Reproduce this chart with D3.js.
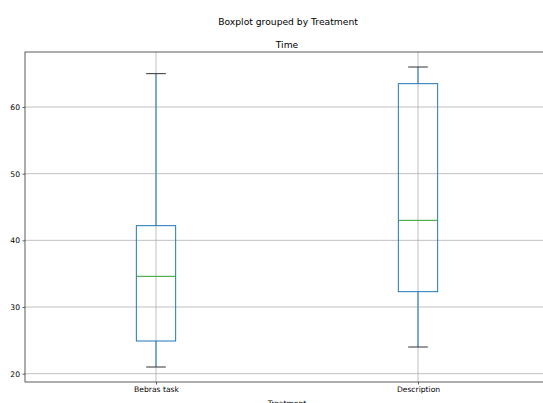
<!DOCTYPE html>
<html>
<head>
<meta charset="utf-8">
<script src="https://cdn.jsdelivr.net/npm/d3@7"></script>
<style>
  body { margin: 0; background: #fff; }
  svg { display: block; font-family: "DejaVu Sans", sans-serif; }
</style>
</head>
<body>
<svg></svg>
<script>
var WIDTH = 543;
var HEIGHT = 403;

// data
var categories = ['Bebras task', 'Description'];
var whiskerLow = [21, 24];
var q1 = [24.9, 32.3];
var median = [34.6, 43.0];
var q3 = [42.2, 63.5];
var whiskerHigh = [65, 66];
var yTicks = [20, 30, 40, 50, 60];

// plot area (right edge sits past the window, as in the reference)
var plotLeft = 25, plotRight = 549, plotTop = 52, plotBottom = 382;

var svg = d3.select('svg')
  .attr('width', WIDTH)
  .attr('height', HEIGHT);

var yMin = d3.min(whiskerLow);
var yMax = d3.max(whiskerHigh);
var pad = (yMax - yMin) * 0.05;

var yScale = d3.scaleLinear()
  .domain([yMin - pad, yMax + pad])
  .range([plotBottom, plotTop]);

var xScale = d3.scaleLinear()
  .domain([0.5, categories.length + 0.5])
  .range([plotLeft, plotRight]);

var boxW = 0.15;

// grid
svg.append('g')
  .selectAll('line')
  .data(yTicks)
  .enter()
  .append('line')
  .attr('x1', plotLeft).attr('x2', plotRight)
  .attr('y1', function(d) { return yScale(d); })
  .attr('y2', function(d) { return yScale(d); })
  .attr('stroke', '#b0b0b0').attr('stroke-width', 0.8);

svg.append('g')
  .selectAll('line')
  .data(categories)
  .enter()
  .append('line')
  .attr('x1', function(d, i) { return xScale(i + 1); })
  .attr('x2', function(d, i) { return xScale(i + 1); })
  .attr('y1', plotTop).attr('y2', plotBottom)
  .attr('stroke', '#b0b0b0').attr('stroke-width', 0.8);

// axes
var yAxis = d3.axisLeft(yScale).tickValues(yTicks).tickSize(2.5).tickPadding(2.5);
var gy = svg.append('g').attr('transform', 'translate(' + plotLeft + ',0)').call(yAxis);
gy.select('.domain').remove();
gy.selectAll('text').attr('font-size', '7.6px').attr('fill', '#000')
  .attr('font-family', '"DejaVu Sans", sans-serif');
gy.selectAll('line').attr('stroke', '#000').attr('stroke-width', 0.6);

var xAxis = d3.axisBottom(xScale).tickValues(d3.range(1, categories.length + 1))
  .tickFormat(function(d) { return categories[d - 1]; })
  .tickSize(2.5).tickPadding(2.5);
var gx = svg.append('g').attr('transform', 'translate(0,' + plotBottom + ')').call(xAxis);
gx.select('.domain').remove();
gx.selectAll('text').attr('font-size', '7.6px').attr('fill', '#000')
  .attr('font-family', '"DejaVu Sans", sans-serif');
gx.selectAll('line').attr('stroke', '#000').attr('stroke-width', 0.6);

// frame
svg.append('rect')
  .attr('x', plotLeft).attr('y', plotTop)
  .attr('width', plotRight - plotLeft).attr('height', plotBottom - plotTop)
  .attr('fill', 'none').attr('stroke', '#333').attr('stroke-width', 0.8);

// boxes
var boxes = svg.append('g').selectAll('g')
  .data(categories)
  .enter()
  .append('g');

boxes.append('line')
  .attr('x1', function(d, i) { return xScale(i + 1); })
  .attr('x2', function(d, i) { return xScale(i + 1); })
  .attr('y1', function(d, i) { return yScale(whiskerLow[i]); })
  .attr('y2', function(d, i) { return yScale(q1[i]); })
  .attr('stroke', '#1f77b4').attr('stroke-width', 1);

boxes.append('line')
  .attr('x1', function(d, i) { return xScale(i + 1); })
  .attr('x2', function(d, i) { return xScale(i + 1); })
  .attr('y1', function(d, i) { return yScale(q3[i]); })
  .attr('y2', function(d, i) { return yScale(whiskerHigh[i]); })
  .attr('stroke', '#1f77b4').attr('stroke-width', 1);

boxes.append('rect')
  .attr('x', function(d, i) { return xScale(i + 1 - boxW / 2); })
  .attr('width', function(d, i) { return xScale(i + 1 + boxW / 2) - xScale(i + 1 - boxW / 2); })
  .attr('y', function(d, i) { return yScale(q3[i]); })
  .attr('height', function(d, i) { return yScale(q1[i]) - yScale(q3[i]); })
  .attr('fill', 'none').attr('stroke', '#1f77b4').attr('stroke-width', 1);

boxes.append('line')
  .attr('x1', function(d, i) { return xScale(i + 1 - boxW / 2); })
  .attr('x2', function(d, i) { return xScale(i + 1 + boxW / 2); })
  .attr('y1', function(d, i) { return yScale(median[i]); })
  .attr('y2', function(d, i) { return yScale(median[i]); })
  .attr('stroke', '#2ca02c').attr('stroke-width', 1);

[whiskerLow, whiskerHigh].forEach(function(arr) {
  boxes.append('line')
    .attr('x1', function(d, i) { return xScale(i + 1 - boxW / 4); })
    .attr('x2', function(d, i) { return xScale(i + 1 + boxW / 4); })
    .attr('y1', function(d, i) { return yScale(arr[i]); })
    .attr('y2', function(d, i) { return yScale(arr[i]); })
    .attr('stroke', '#333').attr('stroke-width', 1);
});

// titles
svg.append('text')
  .attr('x', 288).attr('y', 25)
  .attr('text-anchor', 'middle')
  .attr('font-size', '9.2px')
  .text('Boxplot grouped by Treatment');

svg.append('text')
  .attr('x', (plotLeft + plotRight) / 2).attr('y', 47.5)
  .attr('text-anchor', 'middle')
  .attr('font-size', '9.2px')
  .text('Time');

svg.append('text')
  .attr('x', (plotLeft + plotRight) / 2).attr('y', 406)
  .attr('text-anchor', 'middle')
  .attr('font-size', '7.6px')
  .text('Treatment');
</script>
</body>
</html>
